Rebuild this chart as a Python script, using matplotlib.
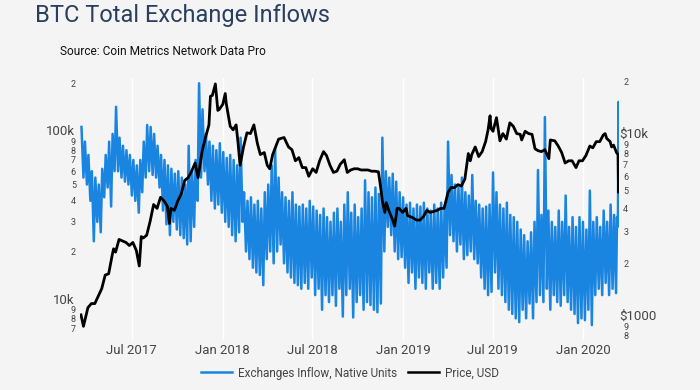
import pandas as pd
from matplotlib import pyplot as plt
from matplotlib.lines import Line2D
from matplotlib.ticker import FixedLocator, FixedFormatter
from matplotlib.transforms import ScaledTranslation
import matplotlib.dates as mdates

# weekly peaks / troughs of exchange inflows (thousands of BTC), weeks from 2017-03-20
inflow_hi_k = [110, 90, 75, 60, 55, 50, 62, 75, 90, 100, 145, 95, 85, 80, 75, 70, 65, 70, 90, 113,
	110, 100, 85, 75, 70, 65, 62, 58, 60, 55, 50, 85, 60, 70, 200, 140, 100, 90, 85, 80,
	88, 78, 72, 75, 70, 65, 95, 45, 40, 42, 38, 40, 36, 45, 50, 65, 82, 55, 45, 42,
	40, 45, 38, 37, 38, 36, 40, 37, 35, 33, 36, 32, 30, 34, 36, 30, 38, 45, 34, 38,
	32, 36, 53, 45, 42, 48, 44, 95, 60, 55, 58, 52, 45, 42, 38, 39, 36, 38, 37, 39,
	36, 35, 38, 36, 39, 37, 90, 57, 50, 48, 55, 45, 43, 57, 40, 38, 36, 37, 38, 59,
	45, 38, 36, 39, 33, 32, 30, 27, 25, 23, 26, 30, 61, 33, 126, 35, 30, 28, 35, 30,
	43, 28, 32, 28, 32, 30, 27, 46, 30, 32, 28, 35, 30, 38, 33]
inflow_lo_k = [55, 50, 40, 23, 30, 26, 42, 48, 37, 60, 60, 55, 52, 50, 43, 40, 34, 45, 55, 60,
	57, 55, 48, 35, 29, 25, 30, 27, 25, 24, 22, 23, 28, 40, 55, 60, 50, 40, 36, 38,
	34, 30, 28, 25, 23, 26, 30, 20, 18, 16, 15, 14.5, 12.6, 18, 20, 17, 20, 22, 17, 15,
	14, 13, 12.6, 12, 13, 12, 14, 11, 12, 9, 11, 10, 11, 9.5, 12, 8.2, 11, 12, 8.1, 10,
	11, 9, 10, 9.6, 9, 8.7, 9.8, 20, 28, 25, 20, 18, 18.5, 16, 13, 15, 12, 14, 13, 12,
	15, 12, 13, 12, 14, 16, 25, 23, 20, 22, 18, 19, 20, 18, 17, 14, 12, 11, 11.5, 15,
	12, 11, 10, 9, 8.5, 8, 7.6, 9, 8, 9.8, 8, 10, 11, 10, 12, 9, 11, 10, 9.5, 11,
	10, 9, 8.5, 7.5, 8, 7.8, 9, 7.3, 11, 12, 11, 13, 11, 12, 11.3]
# last days (March 2020 crash)
tail_dates = ['2020-03-09', '2020-03-10', '2020-03-11', '2020-03-12', '2020-03-13']
tail_k = [32, 28, 35, 155, 40]

price_dates = ['2017-03-20', '2017-03-25', '2017-04-03', '2017-04-10', '2017-04-17', '2017-04-24',
	'2017-05-01', '2017-05-08', '2017-05-15', '2017-05-22', '2017-05-25', '2017-05-29', '2017-06-05',
	'2017-06-12', '2017-06-19', '2017-06-26', '2017-07-03', '2017-07-10', '2017-07-16', '2017-07-20',
	'2017-07-24', '2017-07-31', '2017-08-07', '2017-08-14', '2017-08-21', '2017-08-28', '2017-09-04',
	'2017-09-11', '2017-09-15', '2017-09-18', '2017-09-25', '2017-10-02', '2017-10-09', '2017-10-16',
	'2017-10-23', '2017-10-30', '2017-11-06', '2017-11-12', '2017-11-20', '2017-11-27', '2017-12-04',
	'2017-12-07', '2017-12-11', '2017-12-17', '2017-12-22', '2017-12-25', '2018-01-01', '2018-01-06',
	'2018-01-08', '2018-01-16', '2018-01-22', '2018-01-28', '2018-02-01', '2018-02-05', '2018-02-12',
	'2018-02-19', '2018-02-26', '2018-03-05', '2018-03-12', '2018-03-18', '2018-03-26', '2018-04-01',
	'2018-04-06', '2018-04-12', '2018-04-24', '2018-05-05', '2018-05-14', '2018-05-21', '2018-05-28',
	'2018-06-04', '2018-06-11', '2018-06-18', '2018-06-24', '2018-07-02', '2018-07-09', '2018-07-16',
	'2018-07-24', '2018-07-30', '2018-08-06', '2018-08-13', '2018-08-20', '2018-08-27', '2018-09-04',
	'2018-09-10', '2018-09-17', '2018-09-24', '2018-10-01', '2018-10-08', '2018-10-15', '2018-10-22',
	'2018-10-29', '2018-11-05', '2018-11-12', '2018-11-15', '2018-11-20', '2018-11-25', '2018-11-28',
	'2018-12-03', '2018-12-10', '2018-12-15', '2018-12-20', '2018-12-24', '2018-12-31', '2019-01-07',
	'2019-01-10', '2019-01-21', '2019-01-28', '2019-02-04', '2019-02-11', '2019-02-18', '2019-02-25',
	'2019-03-04', '2019-03-11', '2019-03-18', '2019-03-25', '2019-04-02', '2019-04-08', '2019-04-15',
	'2019-04-22', '2019-04-29', '2019-05-06', '2019-05-13', '2019-05-17', '2019-05-20', '2019-05-27',
	'2019-06-03', '2019-06-10', '2019-06-17', '2019-06-22', '2019-06-26', '2019-06-28', '2019-07-02',
	'2019-07-09', '2019-07-16', '2019-07-22', '2019-07-29', '2019-08-05', '2019-08-12', '2019-08-19',
	'2019-08-26', '2019-08-29', '2019-09-05', '2019-09-12', '2019-09-19', '2019-09-25', '2019-10-01',
	'2019-10-08', '2019-10-15', '2019-10-23', '2019-10-26', '2019-11-04', '2019-11-11', '2019-11-18',
	'2019-11-25', '2019-12-02', '2019-12-09', '2019-12-17', '2019-12-23', '2019-12-30', '2020-01-06',
	'2020-01-14', '2020-01-20', '2020-01-27', '2020-02-03', '2020-02-10', '2020-02-14', '2020-02-17',
	'2020-02-24', '2020-02-27', '2020-03-02', '2020-03-08', '2020-03-11', '2020-03-12', '2020-03-13']
price_usd = [1040, 900, 1140, 1200, 1200, 1320,
	1450, 1720, 1750, 2200, 2400, 2300, 2700,
	2650, 2600, 2500, 2600, 2350, 1930, 2800,
	2750, 2850, 3400, 4200, 4000, 4600, 4400,
	4100, 3300, 4000, 3900, 4400, 4800, 5700,
	5900, 6400, 7100, 5900, 8200, 9800, 11500,
	16500, 16700, 19300, 13800, 14000, 14900, 17100,
	15100, 11300, 10800, 11500, 9100, 6900, 8700,
	10400, 10300, 11500, 9100, 7900, 8100, 6900,
	6600, 7900, 9600, 9800, 8700, 8400, 7300,
	7600, 6700, 6700, 6000, 6600, 6300, 7300,
	8200, 7800, 6900, 6300, 6400, 7000, 7400,
	6300, 6500, 6600, 6600, 6500, 6500, 6500,
	6400, 6400, 6350, 5600, 4400, 3800, 4300,
	3900, 3500, 3200, 4000, 4000, 3800, 4000,
	3650, 3550, 3450, 3450, 3600, 3900, 3800,
	3850, 3900, 4000, 4000, 4900, 5200, 5200,
	5400, 5300, 5800, 8000, 7300, 7900, 8700,
	7700, 8200, 9300, 10800, 12900, 11000, 10600,
	12600, 9400, 10300, 9600, 11800, 11300, 10300,
	10200, 9500, 10600, 10300, 10200, 8500, 8300,
	8200, 8400, 7500, 9500, 9400, 8800, 8100,
	7100, 7300, 7300, 6700, 7300, 7300, 7800,
	8800, 8600, 9300, 9300, 10100, 10300, 9700,
	9300, 8700, 8900, 8100, 7900, 4900, 5200]

left_major = [10, 100]
left_major_labels = ['10k', '100k']
left_minor = [7, 8, 9, 20, 30, 40, 50, 60, 70, 80, 90, 200]
left_minor_labels = ['7', '8', '9', '2', '3', '4', '5', '6', '7', '8', '9', '2']
right_major = [1000, 10000]
right_major_labels = ['$1000', '$10k']
right_minor = [800, 900, 2000, 3000, 4000, 5000, 6000, 7000, 8000, 9000, 20000]
right_minor_labels = ['8', '9', '2', '3', '4', '5', '6', '7', '8', '9', '2']

BG = '#f4f4f4'
BLUE = '#1a85e0'
TXT = '#444444'


def main():
	plt.rcParams['font.family'] = ['Roboto', 'DejaVu Sans']

	weeks = pd.date_range('2017-03-20', periods=len(inflow_hi_k), freq='7D')
	dates = []
	vals = []
	for w, hi, lo in zip(weeks, inflow_hi_k, inflow_lo_k):
		dates += [w + pd.Timedelta(days=1), w + pd.Timedelta(days=5)]
		vals += [hi, lo]
	dates += list(pd.to_datetime(tail_dates))
	vals += tail_k

	fig = plt.figure(figsize=(7, 3.9), dpi=100, facecolor=BG)
	ax = fig.add_axes([80 / 700, 1 - 340 / 390, 539 / 700, 262 / 390])
	ax.set_facecolor(BG)
	ax.plot(dates, vals, color=BLUE, lw=1.8)
	ax.set_yscale('log')
	ax.set_ylim(5.95, 215)
	ax.set_xlim(pd.Timestamp('2017-03-18'), pd.Timestamp('2020-03-13'))

	ax2 = ax.twinx()
	ax2.plot(pd.to_datetime(price_dates), price_usd, color='black', lw=2.0)
	ax2.set_yscale('log')
	ax2.set_ylim(757, 20800)

	for a in (ax, ax2):
		for s in a.spines.values():
			s.set_visible(False)
	ax.xaxis.set_major_locator(mdates.MonthLocator(bymonth=[1, 7]))
	ax.xaxis.set_major_formatter(mdates.DateFormatter('%b %Y'))
	ax.grid(axis='x', color='white', lw=1)
	ax.tick_params(axis='x', length=0, pad=3, labelsize=9.5, labelcolor=TXT)

	ax.yaxis.set_major_locator(FixedLocator(left_major))
	ax.yaxis.set_major_formatter(FixedFormatter(left_major_labels))
	ax.yaxis.set_minor_locator(FixedLocator(left_minor))
	ax.yaxis.set_minor_formatter(FixedFormatter(left_minor_labels))
	ax.tick_params(axis='y', which='major', length=0, pad=4, labelsize=9.5, labelcolor=TXT)
	ax.tick_params(axis='y', which='minor', length=0, pad=3, labelsize=6.5, labelcolor=TXT)

	ax2.yaxis.set_major_locator(FixedLocator(right_major))
	ax2.yaxis.set_major_formatter(FixedFormatter(right_major_labels))
	ax2.yaxis.set_minor_locator(FixedLocator(right_minor))
	ax2.yaxis.set_minor_formatter(FixedFormatter(right_minor_labels))
	ax2.tick_params(axis='y', which='major', length=0, pad=0, labelsize=9.5, labelcolor=TXT)
	ax2.tick_params(axis='y', which='minor', length=0, pad=3, labelsize=6.5, labelcolor=TXT)

	# lift the big labels a little so they sit above the small ones
	up = ScaledTranslation(0, 2.5 / 72, fig.dpi_scale_trans)
	for t in ax.yaxis.get_major_ticks() + ax2.yaxis.get_major_ticks():
		t.label1.set_transform(t.label1.get_transform() + up)
		t.label2.set_transform(t.label2.get_transform() + up)

	fig.text(35 / 700, 1 - 22 / 390, 'BTC Total Exchange Inflows', fontsize=17, color='#2a3f5f')
	fig.text(60 / 700, 1 - 55 / 390, 'Source: Coin Metrics Network Data Pro', fontsize=8.6, color='#111111')

	handles = [Line2D([], [], color=BLUE, lw=1.8), Line2D([], [], color='black', lw=1.8)]
	fig.legend(handles, ['Exchanges Inflow, Native Units', 'Price, USD'], loc='center',
		bbox_to_anchor=(0.5, 1 - 373 / 390), ncol=2, frameon=False, fontsize=8.5,
		handlelength=2.6, handletextpad=0.5, columnspacing=1.0, labelcolor=TXT)

	fig.savefig('out.png', dpi=100, facecolor=BG)


if __name__ == '__main__':
	main()
